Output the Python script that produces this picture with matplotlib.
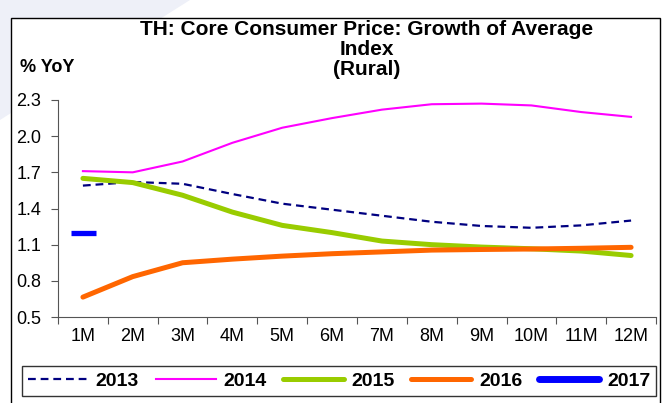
import numpy as np
import matplotlib
matplotlib.use("Agg")
import matplotlib.pyplot as plt
from matplotlib.patches import Rectangle, Polygon

plt.rcParams['font.family'] = ['Liberation Sans', 'DejaVu Sans']

months = ['1M', '2M', '3M', '4M', '5M', '6M', '7M', '8M', '9M', '10M', '11M', '12M']
y2013 = [1.59, 1.62, 1.605, 1.52, 1.44, 1.39, 1.34, 1.29, 1.255, 1.24, 1.26, 1.30]
y2014 = [1.71, 1.70, 1.79, 1.945, 2.07, 2.15, 2.22, 2.265, 2.27, 2.255, 2.20, 2.16]
y2015 = [1.65, 1.615, 1.51, 1.37, 1.26, 1.20, 1.13, 1.10, 1.08, 1.066, 1.047, 1.01]
y2016 = [0.665, 0.835, 0.95, 0.98, 1.005, 1.025, 1.04, 1.055, 1.06, 1.064, 1.07, 1.078]
y2017 = [1.20]
yticks = [0.5, 0.8, 1.1, 1.4, 1.7, 2.0, 2.3]

W, H = 665, 403
fig = plt.figure(figsize=(W / 100, H / 100), dpi=100)

# faint background shape and chart frame
fig.patches.append(Polygon([(0, 1), (190 / W, 1), (0, 1 - 120 / H)], closed=True,
                           transform=fig.transFigure, facecolor='#eef0f8', edgecolor='none', zorder=0))
fig.patches.append(Rectangle((11 / W, -0.01), 649 / W, 1 - 18 / H + 0.01, transform=fig.transFigure,
                             facecolor='white', edgecolor='black', linewidth=1.0, zorder=0.5))

ax = fig.add_axes([58 / W, 1 - 317 / H, 598 / W, 217 / H])
ax.set_zorder(2)
ax.set_facecolor('none')
x = np.arange(len(months))

l13, = ax.plot(x, y2013, color='#000080', lw=1.6, ls=(0, (3.5, 2.2)), label='2013')
l14, = ax.plot(x, y2014, color='#ff00ff', lw=1.5, label='2014')
l15, = ax.plot(x, y2015, color='#99cc00', lw=3.6, label='2015', solid_capstyle='round')
l16, = ax.plot(x, y2016, color='#ff6600', lw=3.6, label='2016', solid_capstyle='round')
ax.plot(x[:len(y2017)], y2017, color='#0000ff', ls='none', marker='_', markersize=18,
        markeredgewidth=3.8)
l17, = ax.plot([], [], color='#0000ff', lw=5, label='2017', solid_capstyle='round')

ax.set_xlim(-0.5, len(months) - 0.5)
ax.set_ylim(0.5, 2.3)
ax.set_yticks(yticks)
ax.set_yticklabels(['%.1f' % v for v in yticks], fontsize=13)
ax.set_xticks(np.arange(-0.5, len(months)), labels=[])
ax.set_xticks(x, labels=months, minor=True)
ax.tick_params(axis='x', which='minor', length=0, labelsize=13, pad=8)
ax.tick_params(axis='x', which='major', length=5, direction='out', color='#555555')
ax.tick_params(axis='y', length=5, direction='out', color='#555555', pad=7)
for s in ['top', 'right']:
    ax.spines[s].set_visible(False)
for s in ['left', 'bottom']:
    ax.spines[s].set_color('#555555')

t = fig.text(367 / W, 1 - 20 / H, 'TH: Core Consumer Price: Growth of Average\nIndex\n(Rural)',
             ha='center', va='top', fontsize=15, fontweight='bold', linespacing=1.08)
t.set_zorder(3)
yoy = fig.text(20 / W, 1 - 67 / H, '% YoY', ha='left', va='center', fontsize=13, fontweight='bold')
yoy.set_zorder(3)

leg = fig.legend(handles=[l13, l14, l15, l16, l17], loc='center',
                 bbox_to_anchor=(339 / W, 1 - 381 / H), ncol=5, frameon=True, fancybox=False,
                 handlelength=3.1, handletextpad=0.4, columnspacing=0.85, borderpad=0.3,
                 borderaxespad=0, prop={'weight': 'bold', 'size': 14})
leg.set_zorder(3)
leg.get_frame().set_edgecolor('black')
leg.get_frame().set_linewidth(1.0)

fig.savefig('out.png', dpi=100)
